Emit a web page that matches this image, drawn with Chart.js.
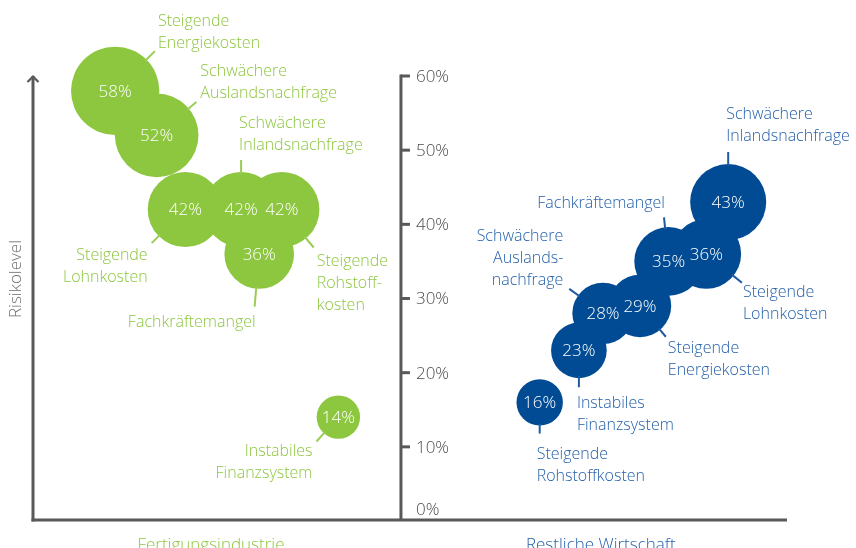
<!DOCTYPE html>
<html>
<head>
<meta charset="utf-8">
<script src="https://cdn.jsdelivr.net/npm/chart.js@4/dist/chart.umd.min.js"></script>
<style>
html,body{margin:0;padding:0;background:#fff;}
canvas{display:block;}
</style>
</head>
<body>
<canvas id="c" width="856" height="548"></canvas>
<script>
// ---------- DATA ----------
const yTickValues = [0, 10, 20, 30, 40, 50, 60];
const groupNames = ['Fertigungsindustrie', 'Restliche Wirtschaft'];
const axisTitle = 'Risikolevel';

const greenCategories = [
  ['Steigende', 'Energiekosten'],
  ['Schwächere', 'Auslandsnachfrage'],
  ['Steigende', 'Lohnkosten'],
  ['Schwächere', 'Inlandsnachfrage'],
  ['Steigende', 'Rohstoff-', 'kosten'],
  ['Fachkräftemangel'],
  ['Instabiles', 'Finanzsystem']
];
const greenValues = [58, 52, 42, 42, 42, 36, 14];

const blueCategories = [
  ['Steigende', 'Rohstoffkosten'],
  ['Instabiles', 'Finanzsystem'],
  ['Schwächere', 'Auslands-', 'nachfrage'],
  ['Steigende', 'Energiekosten'],
  ['Fachkräftemangel'],
  ['Steigende', 'Lohnkosten'],
  ['Schwächere', 'Inlandsnachfrage']
];
const blueValues = [16, 23, 28, 29, 35, 36, 43];

// ---------- LAYOUT / STYLE (not data) ----------
// horizontal spread of bubbles on a hidden 0..100 axis
const greenSpread = [10.9, 16.4, 20.2, 27.6, 33.0, 30.0, 40.5];
const blueSpread  = [67.2, 72.4, 75.6, 80.5, 84.3, 89.3, 92.2];
// leader line: angle(deg), extra length beyond radius; label: dx, dy (first line centre), align
const greenLabelLayout = [
  {a: -45, l: 12, dx: 3,  dy: -30, al: 'left'},
  {a: -40, l: 10, dx: 4,  dy: -31, al: 'left'},
  {a: 135, l: 10, dx: -4, dy: 12,  al: 'right'},
  {a: -90, l: 12, dx: -2, dy: -36, al: 'left'},
  {a: 50,  l: 12, dx: 3,  dy: 14,  al: 'left'},
  {a: 95,  l: 18, dx: 1,  dy: 16,  al: 'right'},
  {a: 132, l: 11, dx: -4, dy: 10,  al: 'right'}
];
const blueLabelLayout = [
  {a: 90,  l: 8,  dx: -3, dy: 21,  al: 'left'},
  {a: 90,  l: 9,  dx: -2, dy: 16,  al: 'left'},
  {a: -144,l: 11, dx: -6, dy: -52, al: 'right'},
  {a: 50,  l: 9,  dx: 2,  dy: 12,  al: 'left'},
  {a: -96, l: 10, dx: 1,  dy: -14, al: 'right'},
  {a: 39,  l: 11, dx: 1,  dy: 10,  al: 'left'},
  {a: -90, l: 12, dx: -2, dy: -38, al: 'left'}
];
const centerAxisAt = 48.8;       // x value of central value axis
const groupTitleAt = [23.6, 75.3];

const GREEN = '#8dc63f';
const BLUE = '#004b93';
const GREEN_TEXT = '#8dc63f';
const BLUE_TEXT = '#2461ab';
const AXIS = '#58595b';
const FONT = '"Open Sans", "Noto Sans", sans-serif';
const W = '300 ';

const bubbleRadius = v => 5.8 * Math.sqrt(v);

function toPoints(spread, values) {
  return values.map((v, i) => ({x: spread[i], y: v}));
}

const overlay = {
  id: 'overlay',
  beforeDatasetsDraw(chart) {
    const {ctx, chartArea, scales} = chart;
    const xs = scales.x, ys = scales.y;
    ctx.save();
    ctx.strokeStyle = AXIS;
    ctx.lineWidth = 3;
    ctx.lineCap = 'butt';
    const left = chartArea.left;
    const bottom = ys.getPixelForValue(0) - 1;
    // left arrow axis
    ctx.beginPath();
    ctx.moveTo(left, bottom + 1.5);
    ctx.lineTo(left, chartArea.top);
    ctx.stroke();
    ctx.lineWidth = 2.2;
    ctx.beginPath();
    ctx.moveTo(left - 5.5, chartArea.top + 6);
    ctx.lineTo(left, chartArea.top + 0.5);
    ctx.lineTo(left + 5.5, chartArea.top + 6);
    ctx.stroke();
    // bottom axis
    ctx.lineWidth = 3;
    ctx.beginPath();
    ctx.moveTo(left - 1.5, bottom);
    ctx.lineTo(chartArea.right, bottom);
    ctx.stroke();
    // central value axis
    const cx = xs.getPixelForValue(centerAxisAt);
    ctx.beginPath();
    ctx.moveTo(cx, bottom);
    ctx.lineTo(cx, ys.getPixelForValue(60) - 1.5);
    ctx.stroke();
    ctx.font = W + '17px ' + FONT;
    ctx.fillStyle = '#4d4d4f';
    ctx.textAlign = 'left';
    ctx.textBaseline = 'middle';
    yTickValues.forEach(t => {
      const py = ys.getPixelForValue(t);
      if (t > 0) {
        ctx.beginPath();
        ctx.moveTo(cx, py);
        ctx.lineTo(cx + 9, py);
        ctx.stroke();
        ctx.fillText(t + '%', cx + 15, py + 1);
      } else {
        ctx.fillText(t + '%', cx + 15, py - 11);
      }
    });
    // axis title
    ctx.save();
    ctx.translate(16, 279);
    ctx.rotate(-Math.PI / 2);
    ctx.textAlign = 'center';
    ctx.fillStyle = '#6d6e71';
    ctx.font = W + '17px ' + FONT;
    ctx.fillText(axisTitle, 0, 0);
    ctx.restore();
    // group titles
    ctx.font = W + '17px ' + FONT;
    ctx.textAlign = 'center';
    ctx.textBaseline = 'alphabetic';
    ctx.fillStyle = GREEN_TEXT;
    ctx.fillText(groupNames[0], xs.getPixelForValue(groupTitleAt[0]), 550);
    ctx.fillStyle = BLUE_TEXT;
    ctx.fillText(groupNames[1], xs.getPixelForValue(groupTitleAt[1]), 550);
    ctx.restore();
  },
  afterDatasetsDraw(chart) {
    const {ctx} = chart;
    const sets = [
      {cats: greenCategories, vals: greenValues, lay: greenLabelLayout, line: '#9bcd55', txt: GREEN_TEXT},
      {cats: blueCategories, vals: blueValues, lay: blueLabelLayout, line: '#1d5aa3', txt: BLUE_TEXT}
    ];
    ctx.save();
    sets.forEach((s, di) => {
      const meta = chart.getDatasetMeta(di);
      meta.data.forEach((el, i) => {
        const r = bubbleRadius(s.vals[i]);
        const L = s.lay[i];
        const ang = L.a * Math.PI / 180;
        const c = Math.cos(ang), sn = Math.sin(ang);
        const ex = el.x + c * (r + L.l), ey = el.y + sn * (r + L.l);
        ctx.strokeStyle = s.line;
        ctx.lineWidth = 2;
        ctx.beginPath();
        ctx.moveTo(el.x + c * (r - 2), el.y + sn * (r - 2));
        ctx.lineTo(ex, ey);
        ctx.stroke();
        // label text
        ctx.fillStyle = s.txt;
        ctx.font = W + '16px ' + FONT;
        ctx.textAlign = L.al;
        ctx.textBaseline = 'middle';
        s.cats[i].forEach((line, k) => {
          ctx.fillText(line, ex + L.dx, ey + L.dy + k * 22);
        });
        // value inside bubble
        ctx.fillStyle = '#ffffff';
        ctx.font = W + '17px ' + FONT;
        ctx.textAlign = 'center';
        ctx.fillText(s.vals[i] + '%', el.x, el.y + 1);
      });
    });
    ctx.restore();
  }
};

new Chart(document.getElementById('c'), {
  type: 'bubble',
  data: {
    datasets: [
      {
        label: groupNames[0],
        data: toPoints(greenSpread, greenValues),
        backgroundColor: GREEN,
        borderWidth: 0,
        radius: ctx => bubbleRadius(ctx.raw.y),
        hoverRadius: 0
      },
      {
        label: groupNames[1],
        data: toPoints(blueSpread, blueValues),
        backgroundColor: BLUE,
        borderWidth: 0,
        radius: ctx => bubbleRadius(ctx.raw.y),
        hoverRadius: 0
      }
    ]
  },
  options: {
    responsive: false,
    animation: false,
    events: [],
    clip: false,
    layout: {autoPadding: false, padding: {left: 33, right: 69, top: 76, bottom: 27}},
    plugins: {legend: {display: false}, tooltip: {enabled: false}},
    scales: {
      x: {type: 'linear', min: 0, max: 100, display: false},
      y: {type: 'linear', min: 0, max: 60, display: false}
    }
  },
  plugins: [overlay]
});
</script>
</body>
</html>
